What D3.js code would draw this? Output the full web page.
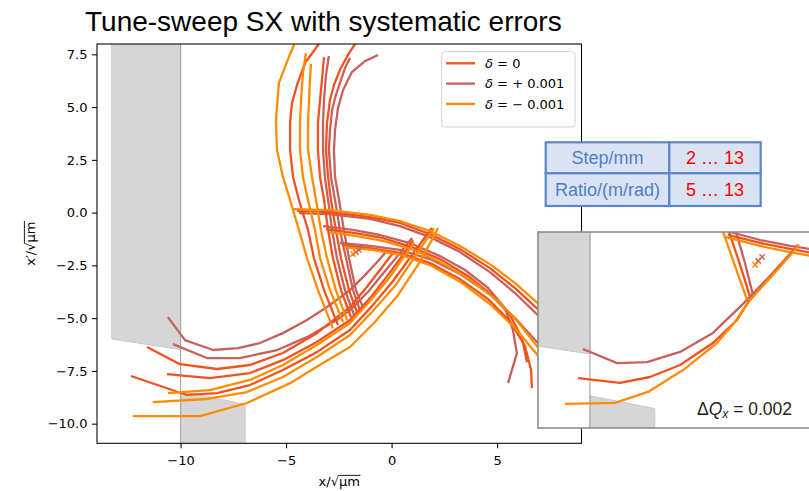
<!DOCTYPE html>
<html>
<head>
<meta charset="utf-8">
<script src="https://cdn.jsdelivr.net/npm/d3@7"></script>
<style>
  body { margin: 0; background: #fff; }
  svg { display: block; }
</style>
</head>
<body>
<svg id="chart" width="809" height="491"></svg>
<script>
// ---- data (x/√μm, x'/√μm) ----
const xTicks = [-10, -5, 0, 5];
const yTicks = [-10, -7.5, -5, -2.5, 0, 2.5, 5, 7.5];
const deltaLabels = ["δ = 0", "δ = + 0.001", "δ = − 0.001"];
const deltaColors = ["#f4511e", "#c8605c", "#ff8c00"];

// septum blades (grey)
const bladeUpper = [[-13.26, 9], [-10, 9], [-10, -6.49], [-13.26, -5.99]];
const bladeLower = [[-10, -8.47], [-6.94, -9.08], [-6.94, -12], [-10, -12]];
const septumX = -10;

// delta = 0
const zeroLower = [
  [[-12.35,-7.74],[-9.70,-8.64],[-8.27,-8.55],[-6.71,-8.17],[-5.15,-7.46],[-3.54,-6.61],[-1.97,-5.56],[-0.93,-4.43],[0.07,-3.24],[0.97,-2.01],[1.63,-1.11],[1.91,-0.73]],
  [[-10.64,-7.65],[-8.61,-7.84],[-6.71,-7.60],[-5.15,-6.99],[-3.54,-6.13],[-1.97,-5.09],[-1.02,-4.05],[-0.17,-2.96],[0.49,-2.06],[0.87,-1.54],[1.01,-1.30]],
  [[-11.59,-6.37],[-10.03,-7.18],[-8.27,-7.41],[-6.71,-7.22],[-5.15,-6.65],[-3.54,-5.71],[-1.97,-4.47],[-1.21,-3.57],[-0.55,-2.72],[-0.08,-2.10],[0.16,-1.82]]
];
const zeroUpper = [
  [[-2.54,-5.33],[-3.20,-3.67],[-3.68,-2.15],[-3.96,-0.82],[-4.39,0.60],[-4.67,1.69],[-4.81,2.97],[-4.81,4.25],[-4.72,5.19],[-4.48,6.05],[-4.10,7.09],[-3.72,7.61],[-3.25,8.27]],
  [[-1.92,-4.95],[-2.40,-3.67],[-2.78,-2.15],[-3.01,-0.82],[-3.20,0.60],[-3.39,1.69],[-3.49,2.97],[-3.49,4.25],[-3.39,5.34],[-3.30,6.28],[-3.20,7.37]],
  [[-1.64,-4.71],[-2.02,-3.67],[-2.40,-2.15],[-2.64,-0.82],[-2.87,0.60],[-3.01,1.69],[-3.11,2.97],[-3.06,4.25],[-2.92,5.34],[-2.73,6.05],[-2.45,6.76],[-2.07,7.47],[-1.73,7.99],[-1.59,8.27]]
];
const zeroTop = [
  [[-4.48,0.08],[-2.92,0.03],[-1.02,-0.21],[0.40,-0.49],[1.82,-1.02],[3.24,-1.73],[4.66,-2.63],[5.85,-3.58],[7.03,-4.67]],
  [[-3.11,-0.78],[-1.73,-0.97],[-0.45,-1.20],[0.97,-1.63],[2.39,-2.25],[3.62,-3.00],[4.76,-3.91],[5.61,-4.85],[6.18,-5.94],[6.42,-7.09]],
  [[-2.35,-1.54],[-1.02,-1.68],[0.40,-1.91],[1.82,-2.39],[3.24,-3.15],[4.57,-4.09],[5.61,-5.14],[6.32,-6.32],[6.61,-7.46],[6.65,-8.32]]
];

// delta = +0.001
const plusLower = [
  [[-10.36,-6.23],[-8.75,-6.89],[-7.18,-6.89],[-5.43,-6.51],[-4.01,-5.90],[-2.59,-5.09],[-1.97,-4.62],[-1.12,-3.76],[-0.27,-2.72],[0.40,-1.91],[0.82,-1.39],[0.97,-1.20]],
  [[-10.60,-4.95],[-9.79,-6.04],[-8.46,-6.51],[-7.28,-6.42],[-6.24,-6.18],[-5.15,-5.71],[-4.01,-5.09],[-3.06,-4.47],[-1.97,-3.67],[-1.26,-2.96],[-0.64,-2.29],[-0.27,-1.87]]
];
const plusUpper = [
  [[-1.78,-4.85],[-2.21,-3.67],[-2.59,-2.15],[-2.82,-0.82],[-3.01,0.60],[-3.16,1.69],[-3.25,2.97],[-3.25,4.25],[-3.20,5.34],[-3.11,6.52],[-2.97,7.42]],
  [[-1.50,-4.62],[-1.83,-3.67],[-2.16,-2.15],[-2.45,-0.82],[-2.68,0.60],[-2.87,1.69],[-2.97,2.97],[-2.92,3.91],[-2.82,4.86],[-2.64,5.57],[-2.40,6.28],[-2.21,6.85],[-1.97,7.33]],
  [[-1.36,-4.47],[-1.69,-3.67],[-2.02,-2.15],[-2.26,-0.82],[-2.49,0.60],[-2.68,1.69],[-2.73,2.97],[-2.68,3.91],[-2.54,4.96],[-2.30,5.81],[-1.88,6.66],[-1.26,7.18],[-0.64,7.47]]
];
const plusTop = [
  [[-4.39,-0.02],[-2.92,-0.07],[-1.02,-0.30],[0.40,-0.64],[1.82,-1.16],[3.24,-1.87],[4.66,-2.82],[5.85,-3.81],[7.03,-4.95]],
  [[-3.25,-0.64],[-1.83,-0.82],[-0.55,-1.06],[0.87,-1.44],[2.29,-2.06],[3.48,-2.72],[4.57,-3.57],[5.37,-4.52],[5.75,-5.56],[5.94,-6.66],[5.52,-8.08]],
  [[-2.45,-1.44],[-1.02,-1.58],[0.40,-1.77],[1.82,-2.20],[3.24,-2.91],[4.66,-3.86],[5.85,-5.00],[7.03,-6.28]]
];

// delta = -0.001
const minusLower = [
  [[-12.26,-9.64],[-9.08,-9.64],[-6.85,-9.02],[-4.81,-8.08],[-3.25,-7.13],[-1.97,-6.37],[-0.79,-5.18],[0.30,-3.91],[1.25,-2.48],[1.91,-1.30],[2.20,-0.73]],
  [[-11.31,-8.98],[-8.75,-8.83],[-6.85,-8.50],[-5.15,-7.79],[-3.54,-6.84],[-1.97,-5.80],[-0.93,-4.71],[0.16,-3.48],[1.06,-2.15],[1.73,-1.16],[2.01,-0.73]],
  [[-10.60,-8.55],[-8.61,-8.41],[-6.71,-7.93],[-5.15,-7.22],[-3.54,-6.27],[-1.97,-5.23],[-1.02,-4.19],[-0.12,-3.10],[0.54,-2.15],[0.92,-1.63],[1.06,-1.39]]
];
const minusUpper = [
  [[-2.78,-5.47],[-3.49,-3.67],[-4.01,-2.15],[-4.39,-0.82],[-4.81,0.60],[-5.15,1.69],[-5.43,2.97],[-5.48,4.39],[-5.34,6.14],[-4.96,7.14],[-4.67,7.85],[-4.48,8.27]],
  [[-2.30,-5.18],[-2.92,-3.67],[-3.39,-2.15],[-3.63,-0.82],[-3.96,0.60],[-4.20,1.69],[-4.34,2.97],[-4.34,4.25],[-4.29,5.34],[-4.20,6.62],[-4.06,7.56]],
  [[-2.11,-5.09],[-2.64,-3.67],[-3.06,-2.15],[-3.35,-0.82],[-3.58,0.60],[-3.77,1.69],[-3.96,2.97],[-3.96,4.25],[-3.91,5.34],[-3.87,6.28],[-3.82,7.04]]
];
const minusTop = [
  [[-4.63,0.17],[-2.92,0.12],[-1.02,-0.11],[0.40,-0.40],[1.82,-0.87],[3.24,-1.58],[4.66,-2.44],[5.85,-3.34],[7.03,-4.38]],
  [[-2.97,-0.92],[-1.64,-1.11],[-0.36,-1.35],[1.06,-1.77],[2.48,-2.44],[3.81,-3.24],[5.04,-4.19],[5.99,-5.18],[7.03,-6.51]],
  [[-2.26,-1.63],[-0.93,-1.77],[0.49,-2.01],[1.91,-2.53],[3.34,-3.34],[4.66,-4.33],[5.85,-5.47],[7.03,-6.89]]
];

// fixed points (zero, plus, minus)
const fixedPoints = [[-1.69,-1.87],[-1.55,-1.77],[-1.83,-1.96]];

// inset: one tune step, ΔQx = 0.002
const insetZero = [
  [[-10.56,-7.63],[-8.58,-7.86],[-7.17,-7.58],[-5.75,-7.01],[-4.20,-5.97],[-3.06,-4.87],[-2.54,-4.02],[-1.51,-2.83],[-0.47,-1.65],[-0.19,-1.31]],
  [[-2.45,-3.78],[-2.92,-2.26],[-3.44,-0.70],[-3.53,-0.41]],
  [[-3.49,-0.84],[-1.98,-1.22],[-0.56,-1.50],[0.47,-1.69]]
];
const insetPlus = [
  [[-10.33,-6.25],[-8.72,-6.92],[-7.31,-6.87],[-5.75,-6.39],[-4.20,-5.49],[-2.78,-4.11],[-1.60,-2.88],[-0.56,-1.74],[-0.23,-1.36]],
  [[-2.31,-3.69],[-2.69,-2.17],[-3.11,-0.70],[-3.20,-0.41]],
  [[-3.39,-0.70],[-1.98,-1.08],[-0.56,-1.36],[0.62,-1.55]]
];
const insetMinus = [
  [[-11.18,-8.86],[-8.82,-8.81],[-7.26,-8.29],[-5.61,-7.25],[-4.01,-5.97],[-3.16,-4.97],[-2.45,-3.92],[-1.46,-2.83],[-0.42,-1.65],[-0.14,-1.31]],
  [[-2.59,-3.92],[-3.16,-2.31],[-3.72,-0.70],[-3.82,-0.41]],
  [[-3.63,-0.93],[-1.98,-1.36],[-0.56,-1.65],[0.47,-1.84]]
];
const insetFixed = [[-2.07,-2.07],[-1.88,-1.88],[-2.21,-2.26]];

const tableRows = [["Step/mm", "2 … 13"], ["Ratio/(m/rad)", "5 … 13"]];

// ---- layout ----
const m = { left: 97, right: 581.5, top: 44, bottom: 443.3 };
const x = d3.scaleLinear().domain([-13.96, 9.0]).range([m.left, m.right]);
const y = d3.scaleLinear().domain([-10.93, 7.99]).range([m.bottom, m.top]);

const inset = { left: 538, right: 815, top: 232, bottom: 428 };
const xi = d3.scaleLinear().domain([-12.45, 0.33]).range([538, 809]);
const yi = d3.scaleLinear().domain([-10, -0.70]).range([428, 232]);

const svg = d3.select("#chart");
const defs = svg.append("defs");
defs.append("clipPath").attr("id", "clipMain").append("rect")
  .attr("x", m.left).attr("y", m.top)
  .attr("width", m.right - m.left).attr("height", m.bottom - m.top);
defs.append("clipPath").attr("id", "clipInset").append("rect")
  .attr("x", inset.left).attr("y", inset.top)
  .attr("width", inset.right - inset.left).attr("height", inset.bottom - inset.top);

const tickFont = "DejaVu Sans, sans-serif";
const lineW = 2.3;

// title
svg.append("text")
  .attr("x", 85).attr("y", 31)
  .style("font-family", "Liberation Sans, Arial, sans-serif")
  .style("font-size", "28px")
  .text("Tune-sweep SX with systematic errors");

// draws blades + septum + trajectories into a clipped group
function drawPhaseSpace(g, sx, sy, groups, fixed, septumSpan) {
  const line = d3.line().x(d => sx(d[0])).y(d => sy(d[1]));
  g.selectAll(".blade")
    .data([bladeUpper, bladeLower])
    .join("path")
    .attr("class", "blade")
    .attr("d", d => line(d) + "Z")
    .attr("fill", "#d6d6d6")
    .attr("stroke", "#c9c9c9")
    .attr("stroke-width", 1);
  g.append("line")
    .attr("x1", sx(septumX)).attr("x2", sx(septumX))
    .attr("y1", sy(septumSpan[0])).attr("y2", sy(septumSpan[1]))
    .attr("stroke", "#a8a8a8")
    .attr("stroke-width", 1.2);

  groups.forEach(grp => {
    g.append("g")
      .selectAll("path")
      .data(grp.arms)
      .join("path")
      .attr("d", line)
      .attr("fill", "none")
      .attr("stroke", grp.color)
      .attr("stroke-width", lineW)
      .attr("stroke-linejoin", "round");
  });

  const cross = d3.symbol().type(d3.symbolX).size(20);
  g.selectAll(".fp")
    .data(fixed)
    .join("path")
    .attr("class", "fp")
    .attr("transform", d => `translate(${sx(d[0])},${sy(d[1])})`)
    .attr("d", cross)
    .attr("fill", "none")
    .attr("stroke", (d, i) => deltaColors[i])
    .attr("stroke-width", 1.4);
}

// ---- main axes ----
const main = svg.append("g");
const plot = main.append("g").attr("clip-path", "url(#clipMain)");
drawPhaseSpace(plot, x, y, [
  { color: deltaColors[1], arms: plusLower.concat(plusUpper, plusTop) },
  { color: deltaColors[0], arms: zeroLower.concat(zeroUpper, zeroTop) },
  { color: deltaColors[2], arms: minusLower.concat(minusUpper, minusTop) }
], fixedPoints, [-12, 9]);

// axes
const xAxis = main.append("g")
  .attr("transform", `translate(0,${m.bottom})`)
  .call(d3.axisBottom(x).tickValues(xTicks).tickSize(5).tickPadding(7).tickFormat(d3.format("d")));
const yAxis = main.append("g")
  .attr("transform", `translate(${m.left},0)`)
  .call(d3.axisLeft(y).tickValues(yTicks).tickSize(5).tickPadding(4.5).tickFormat(d3.format(".1f")));
[xAxis, yAxis].forEach(a => {
  a.select(".domain").remove();
  a.selectAll("line").attr("stroke", "#000").attr("stroke-width", 1.05);
  a.selectAll("text").style("font-family", tickFont).style("font-size", "13px").attr("fill", "#000");
});
main.append("rect")
  .attr("x", m.left).attr("y", m.top)
  .attr("width", m.right - m.left).attr("height", m.bottom - m.top)
  .attr("fill", "none").attr("stroke", "#000").attr("stroke-width", 1.05);

// axis labels with sqrt overbar
function sqrtLabel(parent, str, barFrom, barTo) {
  const t = parent.append("text")
    .attr("x", 0).attr("y", 0)
    .attr("text-anchor", "middle")
    .style("font-family", tickFont)
    .style("font-size", "13px")
    .text(str);
  const node = t.node();
  const x0 = node.getEndPositionOfChar(barFrom).x - 0.5;
  const x1 = node.getEndPositionOfChar(barTo).x + 0.5;
  parent.append("line")
    .attr("x1", x0).attr("x2", x1)
    .attr("y1", -10.6).attr("y2", -10.6)
    .attr("stroke", "#000").attr("stroke-width", 0.9);
}
sqrtLabel(main.append("g").attr("transform", `translate(${(m.left + m.right) / 2},486)`), "x/√μm", 2, 4);
sqrtLabel(main.append("g").attr("transform", `translate(35,${(m.top + m.bottom) / 2}) rotate(-90)`), "x′/√μm", 3, 5);

// legend
const legend = main.append("g");
legend.append("rect")
  .attr("x", 441.7).attr("y", 51.7).attr("width", 133.3).attr("height", 75.3)
  .attr("rx", 3).attr("fill", "#fff").attr("fill-opacity", 0.8)
  .attr("stroke", "#d0d0d0").attr("stroke-width", 1);
const legendRows = legend.selectAll(".lr")
  .data(deltaLabels)
  .join("g")
  .attr("class", "lr")
  .attr("transform", (d, i) => `translate(0,${63.3 + i * 20.3})`);
legendRows.append("line")
  .attr("x1", 446).attr("x2", 475)
  .attr("stroke", (d, i) => deltaColors[i]).attr("stroke-width", lineW);
const lt = legendRows.append("text")
  .attr("x", 485).attr("y", 4.6)
  .style("font-family", tickFont).style("font-size", "13px");
lt.append("tspan").style("font-style", "italic").text(d => d.slice(0, 1));
lt.append("tspan").text(d => d.slice(1));

// ---- table ----
const colX = [545.7, 669.3, 760.7];
const rowY = [142.3, 173.3, 206];
const table = svg.append("g");
tableRows.forEach((row, r) => {
  row.forEach((cell, c) => {
    table.append("rect")
      .attr("x", colX[c]).attr("y", rowY[r])
      .attr("width", colX[c + 1] - colX[c]).attr("height", rowY[r + 1] - rowY[r])
      .attr("fill", "#dae3f3").attr("stroke", "#5b87c5").attr("stroke-width", 2.2);
    table.append("text")
      .attr("x", (colX[c] + colX[c + 1]) / 2)
      .attr("y", (rowY[r] + rowY[r + 1]) / 2 + 6.5)
      .attr("text-anchor", "middle")
      .style("font-family", "Liberation Sans, Arial, sans-serif")
      .style("font-size", "18px")
      .attr("fill", c === 0 ? "#4f7fc3" : "#ff0000")
      .text(cell);
  });
});

// ---- inset ----
const insetG = svg.append("g");
insetG.append("rect")
  .attr("x", inset.left).attr("y", inset.top)
  .attr("width", inset.right - inset.left).attr("height", inset.bottom - inset.top)
  .attr("fill", "#fff");
const insetPlot = insetG.append("g").attr("clip-path", "url(#clipInset)");
drawPhaseSpace(insetPlot, xi, yi, [
  { color: deltaColors[1], arms: insetPlus },
  { color: deltaColors[0], arms: insetZero },
  { color: deltaColors[2], arms: insetMinus }
], insetFixed, [-11, 0]);
const dq = insetG.append("text")
  .attr("x", 697).attr("y", 415)
  .style("font-family", "Liberation Sans, Arial, sans-serif")
  .style("font-size", "17.5px")
  .attr("fill", "#222");
dq.append("tspan").text("Δ");
dq.append("tspan").style("font-style", "italic").text("Q");
dq.append("tspan").style("font-style", "italic").style("font-size", "12px").attr("dy", 3).text("x");
dq.append("tspan").attr("dy", -3).text(" = 0.002");
insetG.append("rect")
  .attr("x", inset.left).attr("y", inset.top)
  .attr("width", inset.right - inset.left).attr("height", inset.bottom - inset.top)
  .attr("fill", "none").attr("stroke", "#8c8c8c").attr("stroke-width", 1.6);
</script>
</body>
</html>
